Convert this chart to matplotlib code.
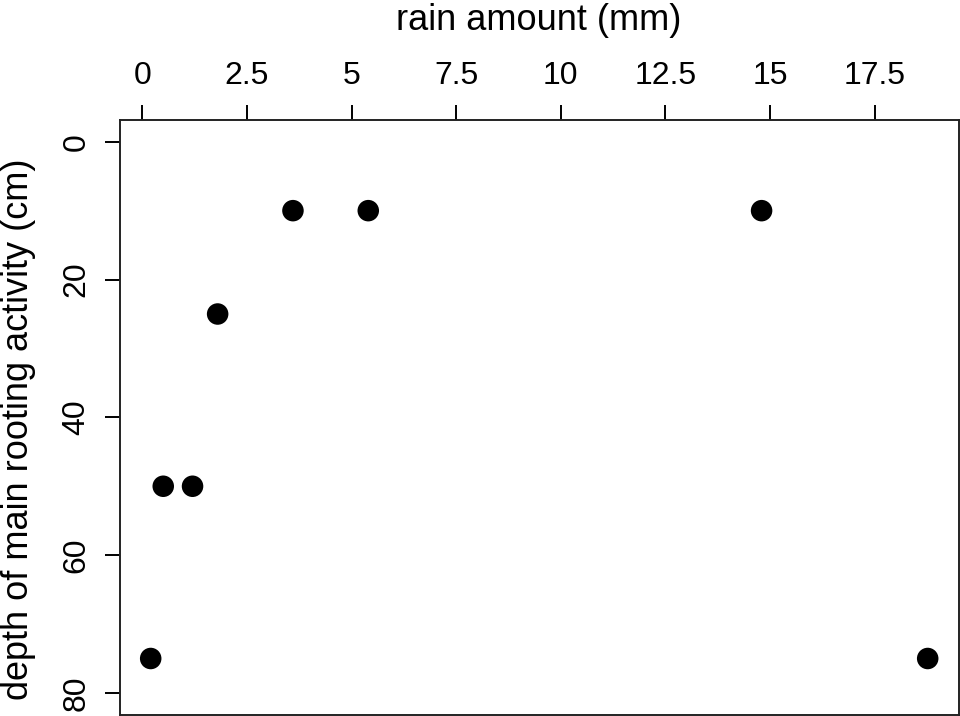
import matplotlib
matplotlib.use('Agg')
import matplotlib.pyplot as plt

# data
rain_mm = [0.2, 0.5, 1.2, 1.8, 3.6, 5.4, 14.8, 18.77]
depth_cm = [75, 50, 50, 25, 10, 10, 10, 75]
x_ticks = [0, 2.5, 5, 7.5, 10, 12.5, 15, 17.5]
x_tick_labels = ['0', '2.5', '5', '7.5', '10', '12.5', '15', '17.5']
y_ticks = [0, 20, 40, 60, 80]

plt.rcParams['font.family'] = ['Liberation Sans', 'DejaVu Sans']

fig = plt.figure(figsize=(9.6, 7.16), dpi=100)
ax = fig.add_axes([0.1245, 0.0014, 0.8741, 0.8314])

ax.scatter(rain_mm, depth_cm, s=240, c='black', edgecolors='none', zorder=3)

ax.set_xlim(-0.545, 19.51)
ax.set_ylim(83.2, -3.2)

ax.xaxis.tick_top()
ax.xaxis.set_label_position('top')
ax.set_xticks(x_ticks)
ax.set_xticklabels(x_tick_labels)
ax.set_yticks(y_ticks)
for lbl in ax.get_yticklabels():
    lbl.set_rotation(90)
    lbl.set_va('center')

ax.tick_params(axis='x', length=11, width=1.4, pad=10, labelsize=23, colors='black')
ax.tick_params(axis='y', length=11, width=1.4, pad=9, labelsize=23, colors='black')

ax.set_xlabel('rain amount (mm)', fontsize=26)
ax.set_ylabel('depth of main rooting activity (cm)', fontsize=26)
ax.xaxis.set_label_coords(0.5, 1.15)
ax.yaxis.set_label_coords(-0.1, 0.48)

for sp in ax.spines.values():
    sp.set_linewidth(1.4)
    sp.set_color('#222222')

fig.savefig('out.png', dpi=100)
